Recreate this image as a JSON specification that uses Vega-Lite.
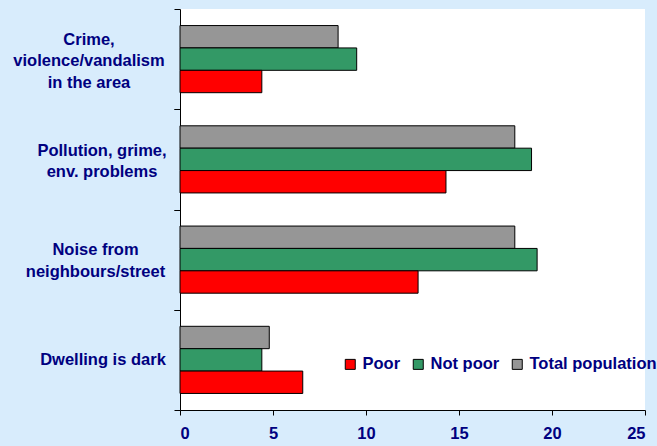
{
  "$schema": "https://vega.github.io/schema/vega-lite/v6.json",
  "width": 465,
  "height": 401,
  "autosize": {"type": "none"},
  "padding": {"left": 180, "top": 9, "right": 12, "bottom": 36},
  "background": "#d8ecfc",
  "config": {
    "view": {"fill": "white", "stroke": null},
    "font": "Liberation Sans",
    "axis": {
      "labelFont": "Liberation Sans",
      "labelFontWeight": "bold",
      "labelFontSize": 16.5,
      "labelColor": "#000080",
      "domainColor": "black",
      "tickColor": "black",
      "grid": false,
      "title": null
    },
    "axisY": {
      "tickBand": "extent",
      "tickSize": 6,
      "labelAlign": "center",
      "labelBaseline": "middle",
      "labelLineHeight": 21.5,
      "labelExpr": "split(datum.label, '|')"
    }
  },
  "data": {
    "values": [
      {"problem": "Crime,|violence/vandalism|in the area", "group": "Total population", "pct": 8.5},
      {"problem": "Crime,|violence/vandalism|in the area", "group": "Not poor", "pct": 9.5},
      {"problem": "Crime,|violence/vandalism|in the area", "group": "Poor", "pct": 4.4},
      {"problem": "Pollution, grime,|env. problems", "group": "Total population", "pct": 18.0},
      {"problem": "Pollution, grime,|env. problems", "group": "Not poor", "pct": 18.9},
      {"problem": "Pollution, grime,|env. problems", "group": "Poor", "pct": 14.3},
      {"problem": "Noise from|neighbours/street", "group": "Total population", "pct": 18.0},
      {"problem": "Noise from|neighbours/street", "group": "Not poor", "pct": 19.2},
      {"problem": "Noise from|neighbours/street", "group": "Poor", "pct": 12.8},
      {"problem": "Dwelling is dark", "group": "Total population", "pct": 4.8},
      {"problem": "Dwelling is dark", "group": "Not poor", "pct": 4.4},
      {"problem": "Dwelling is dark", "group": "Poor", "pct": 6.6}
    ]
  },
  "encoding": {
    "yOffset": {
      "field": "group",
      "type": "nominal",
      "sort": ["Total population", "Not poor", "Poor"],
      "scale": {"paddingInner": 0, "paddingOuter": 0.74}
    },
    "x": {
      "field": "pct",
      "type": "quantitative",
      "scale": {"domain": [0, 25], "nice": false},
      "axis": {"values": [0, 5, 10, 15, 20, 25], "tickSize": 5, "labelPadding": 10}
    },
    "color": {
      "field": "group",
      "type": "nominal",
      "scale": {
        "domain": ["Poor", "Not poor", "Total population"],
        "range": ["#ff0000", "#339966", "#969696"]
      },
      "legend": {
        "orient": "none",
        "direction": "horizontal",
        "legendX": 162,
        "legendY": 347,
        "title": null,
        "symbolType": "square",
        "symbolSize": 100,
        "symbolStrokeColor": "black",
        "symbolStrokeWidth": 1,
        "symbolOpacity": 1,
        "labelFont": "Liberation Sans",
        "labelFontWeight": "bold",
        "labelFontSize": 16.5,
        "labelColor": "#000080",
        "labelOffset": 4,
        "columnPadding": 9
      }
    }
  },
  "layer": [
    {
      "transform": [{"filter": "indexof(datum.problem, 'Crime') == 0"}],
      "mark": {"type": "bar", "stroke": "black", "strokeWidth": 1},
      "encoding": {
        "y": {
          "field": "problem",
          "type": "nominal",
          "scale": {
            "domain": ["Crime,|violence/vandalism|in the area", "Pollution, grime,|env. problems", "Noise from|neighbours/street", "Dwelling is dark"],
            "paddingInner": 0,
            "paddingOuter": 0
          },
          "axis": {"orient": "left", "values": ["Crime,|violence/vandalism|in the area"], "labelOffset": -20, "labelPadding": 85.5}
        }
      }
    },
    {
      "transform": [{"filter": "indexof(datum.problem, 'Pollution') == 0"}],
      "mark": {"type": "bar", "stroke": "black", "strokeWidth": 1},
      "encoding": {
        "y": {
          "field": "problem",
          "type": "nominal",
          "scale": {
            "domain": ["Crime,|violence/vandalism|in the area", "Pollution, grime,|env. problems", "Noise from|neighbours/street", "Dwelling is dark"],
            "paddingInner": 0,
            "paddingOuter": 0
          },
          "axis": {"orient": "left", "values": ["Pollution, grime,|env. problems"], "labelOffset": -9, "labelPadding": 72.5, "domain": false}
        }
      }
    },
    {
      "transform": [{"filter": "indexof(datum.problem, 'Noise') == 0"}],
      "mark": {"type": "bar", "stroke": "black", "strokeWidth": 1},
      "encoding": {
        "y": {
          "field": "problem",
          "type": "nominal",
          "scale": {
            "domain": ["Crime,|violence/vandalism|in the area", "Pollution, grime,|env. problems", "Noise from|neighbours/street", "Dwelling is dark"],
            "paddingInner": 0,
            "paddingOuter": 0
          },
          "axis": {"orient": "left", "values": ["Noise from|neighbours/street"], "labelOffset": -10, "labelPadding": 79, "domain": false}
        }
      }
    },
    {
      "transform": [{"filter": "indexof(datum.problem, 'Dwelling') == 0"}],
      "mark": {"type": "bar", "stroke": "black", "strokeWidth": 1},
      "encoding": {
        "y": {
          "field": "problem",
          "type": "nominal",
          "scale": {
            "domain": ["Crime,|violence/vandalism|in the area", "Pollution, grime,|env. problems", "Noise from|neighbours/street", "Dwelling is dark"],
            "paddingInner": 0,
            "paddingOuter": 0
          },
          "axis": {"orient": "left", "values": ["Dwelling is dark"], "labelOffset": 0, "labelPadding": 71.5, "domain": false}
        }
      }
    }
  ],
  "resolve": {"axis": {"y": "independent"}}
}
